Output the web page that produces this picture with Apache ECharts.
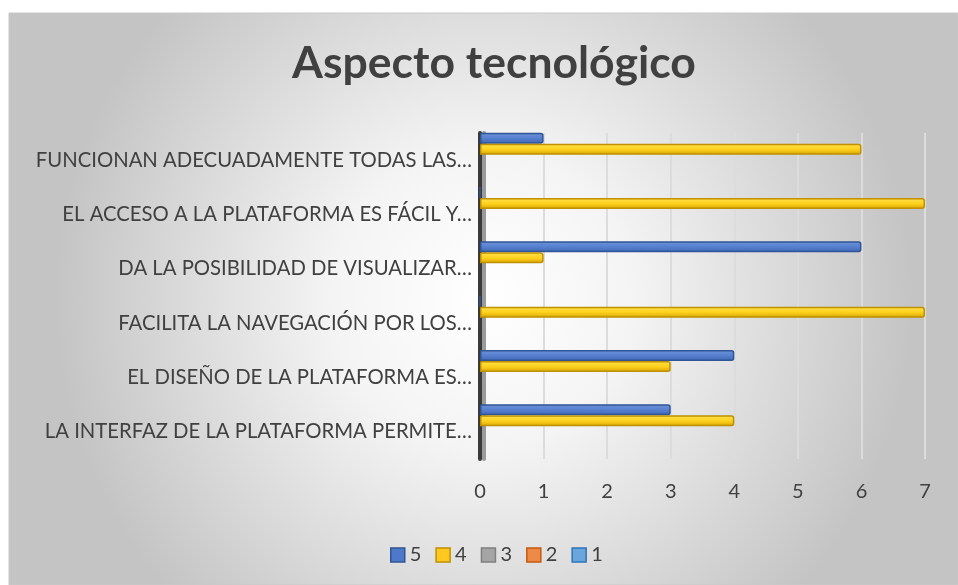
<!DOCTYPE html>
<html><head><meta charset="utf-8">
<script src="https://cdn.jsdelivr.net/npm/echarts@6/dist/echarts.min.js"></script>
<style>html,body{margin:0;padding:0;background:#fff}#c{width:958px;height:585px}</style>
</head><body><div id="c"></div>
<script>
const categories = [
  'LA INTERFAZ DE LA PLATAFORMA PERMITE…',
  'EL DISEÑO DE LA PLATAFORMA ES…',
  'FACILITA LA NAVEGACIÓN POR LOS…',
  'DA LA POSIBILIDAD DE VISUALIZAR…',
  'EL ACCESO A LA PLATAFORMA ES FÁCIL Y…',
  'FUNCIONAN ADECUADAMENTE TODAS LAS…'
];
const s5 = [3, 4, 0, 6, 0, 1];
const s4 = [4, 3, 7, 1, 7, 6];
const s3 = [0, 0, 0, 0, 0, 0];
const s2 = [0, 0, 0, 0, 0, 0];
const s1 = [0, 0, 0, 0, 0, 0];
const xTicks = [0, 1, 2, 3, 4, 5, 6, 7];
const legendOrder = ['5', '4', '3', '2', '1'];

const G = echarts.graphic;
function grad(top, mid, bot) {
  return new G.LinearGradient(0, 0, 0, 1, [
    {offset: 0, color: top}, {offset: 0.5, color: mid}, {offset: 1, color: bot}
  ]);
}
const styles = {
  '5': {fill: grad('#6f93d8', '#5680cf', '#3e66b4'), border: '#2f5597', icon: '#4e78c8'},
  '4': {fill: grad('#ffe14d', '#ffd21f', '#d8a400'), border: '#bf9000', icon: '#ffc820'},
  '3': {fill: '#a5a5a5', border: '#7f7f7f', icon: '#a5a5a5'},
  '2': {fill: '#ed7d31', border: '#c55a11', icon: '#ed8a45'},
  '1': {fill: '#5b9bd5', border: '#2e75b6', icon: '#6aa5db'}
};
function mk(name, data) {
  const st = styles[name];
  const zeroHidden = data.every(v => v === 0);
  return {
    name: name, type: 'bar', data: data,
    barWidth: 11, barGap: '0%',
    itemStyle: {
      color: st.fill,
      borderColor: zeroHidden ? 'transparent' : st.border,
      borderWidth: zeroHidden ? 0 : 1.5,
      borderRadius: [0, 2, 2, 0]
    },
    emphasis: {disabled: true}
  };
}
const chart = echarts.init(document.getElementById('c'), null, {renderer: 'canvas'});
chart.setOption({
  animation: false,
  graphic: [{
    type: 'rect', z: -10, silent: true,
    shape: {x: 9, y: 13, width: 949, height: 572},
    style: {
      fill: new G.RadialGradient(0.5, 0.5, 0.75, [
        {offset: 0, color: '#ffffff'}, {offset: 0.35, color: '#f4f4f4'}, {offset: 1, color: '#c4c4c4'}
      ]),
      stroke: '#c8c8c8', lineWidth: 1
    }
  }],
  title: {
    text: 'Aspecto tecnológico', left: 489, top: 36, textAlign: 'center',
    textStyle: {fontFamily: 'Lato', fontWeight: 'bold', fontSize: 44.5, color: '#404040'}
  },
  legend: {
    data: legendOrder.map(n => ({name: n, itemStyle: {color: styles[n].icon, borderColor: styles[n].border, borderWidth: 1.5}})),
    top: 540, left: 385, icon: 'rect', itemWidth: 14, itemHeight: 14, itemGap: 14,
    textStyle: {fontFamily: 'Lato', fontSize: 20, color: '#404040', padding: [0, 0, 0, 0]}
  },
  grid: {left: 480, right: 33, top: 133, bottom: 126, containLabel: false},
  xAxis: {
    type: 'value', min: xTicks[0], max: xTicks[xTicks.length - 1], interval: 1,
    axisLine: {show: false}, axisTick: {show: false},
    axisLabel: {margin: 23, fontFamily: 'Lato', fontSize: 20, color: '#404040',
      formatter: v => String(xTicks[xTicks.indexOf(v)])},
    splitLine: {lineStyle: {color: '#dcdcdc', width: 2}}
  },
  yAxis: {
    type: 'category', data: categories,
    axisTick: {show: false},
    axisLine: {lineStyle: {color: '#3a3a3a', width: 4, shadowColor: '#9a9a9a', shadowOffsetX: 4, shadowBlur: 0}},
    axisLabel: {margin: 8, fontFamily: 'Lato', fontSize: 20.3, color: '#404040'}
  },
  series: [mk('5', s5), mk('4', s4), mk('3', s3), mk('2', s2), mk('1', s1)]
});
</script>
</body></html>
